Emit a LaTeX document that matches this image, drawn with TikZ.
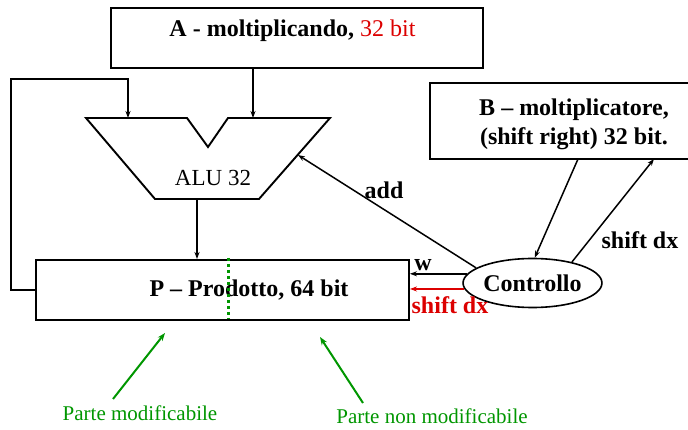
\documentclass[tikz,border=0pt]{standalone}
\usepackage{fontspec}
\setmainfont{Liberation Serif}
\usetikzlibrary{arrows.meta,shapes.geometric}

\definecolor{sigred}{RGB}{220,0,0}
\definecolor{notegreen}{RGB}{0,150,0}

\tikzset{
  regbox/.style={draw, line width=1.9pt, minimum width=#1, inner sep=0pt},
  boldlbl/.style={font=\fontsize{24}{29}\selectfont\bfseries, inner sep=0pt},
  plainlbl/.style={font=\fontsize{23}{28}\selectfont, inner sep=0pt},
  notelbl/.style={font=\fontsize{21}{25}\selectfont, text=notegreen, inner sep=0pt},
  arr/.style={line width=1.5pt, -{Stealth[length=7pt,width=5pt]}},
  notearr/.style={line width=2pt, draw=notegreen, -{Stealth[length=8pt,width=6pt]}},
}

\begin{document}
\begin{tikzpicture}[x=1pt,y=-1pt]
\useasboundingbox (0,0) rectangle (688,430);

% registers
\node[regbox=372pt, minimum height=60pt] (A) at (297,38) {};
\node[boldlbl] (Atext) at (292.5,31) {A - moltiplicando, \textcolor{sigred}{\mdseries 32 bit}};

% the multiplier register runs past the right edge of the page
\node[regbox=290pt, minimum height=76pt] (B) at (575,121) {};
\node[boldlbl, align=center] (Btext) at (574,124)
  {B -- moltiplicatore,\\(shift right) 32 bit.};

\node[regbox=373pt, minimum height=60pt] (P) at (222.5,290) {};
\node[boldlbl] (Ptext) at (249,290) {P -- Prodotto, 64 bit};

% boundary between modifiable and fixed halves of P
\draw[notegreen, line width=3pt, dash pattern=on 3pt off 3pt] (228,258) -- (228,319);

% ALU
\draw[line width=1.9pt, line join=miter, fill=white]
  (86,118) -- (187,118) -- (208,147) -- (228,118) -- (330,118)
  -- (259,199) -- (155,199) -- cycle;
\coordinate (aluInL) at (128,118);
\coordinate (aluInR) at (253,118);
\coordinate (aluOut) at (197,199);
\coordinate (aluCtl) at (298,155);
\node[plainlbl] (alutext) at (213,178) {ALU 32};

% control unit
\node[draw, ellipse, line width=1.6pt, minimum width=121pt, minimum height=49pt,
      inner sep=0pt, boldlbl] (Ctl) at (532.5,283) {Controllo};

% data paths
\draw[arr] (A.south -| aluInR) -- (aluInR);
\draw[arr] (P.west) -- ++(-24,0) -- ++(0,-211) -| (aluInL);
\draw[arr] (aluOut) -- (aluOut |- P.north);

% control signals
\draw[arr] (Ctl.165) -- (aluCtl);
\node[boldlbl] (addlbl) at (384,190) {add};
\draw[arr] (Ctl.172) -- (P.east |- Ctl.172);
\node[boldlbl] (wlbl) at (423,265) {w};
\draw[arr, sigred] (Ctl.185) -- (P.east |- Ctl.185);
\node[boldlbl, text=sigred] (shlbl) at (450,305) {shift dx};
\coordinate (bOut) at (578,159);
\coordinate (bIn) at (654,159);
\draw[arr] (bOut) -- (Ctl.85);
\draw[arr] (Ctl.28) -- (bIn);
\node[boldlbl] (shBlbl) at (640,240) {shift dx};

% notes
\node[notelbl] (nmod) at (140,413) {Parte modificabile};
\node[notelbl] (nfix) at (432,416) {Parte non modificabile};
\coordinate (modTip) at (165,333);
\coordinate (fixTip) at (320,337);
\draw[notearr] (113,399) -- (modTip);
\draw[notearr] (363,403) -- (fixTip);
\end{tikzpicture}
\end{document}
